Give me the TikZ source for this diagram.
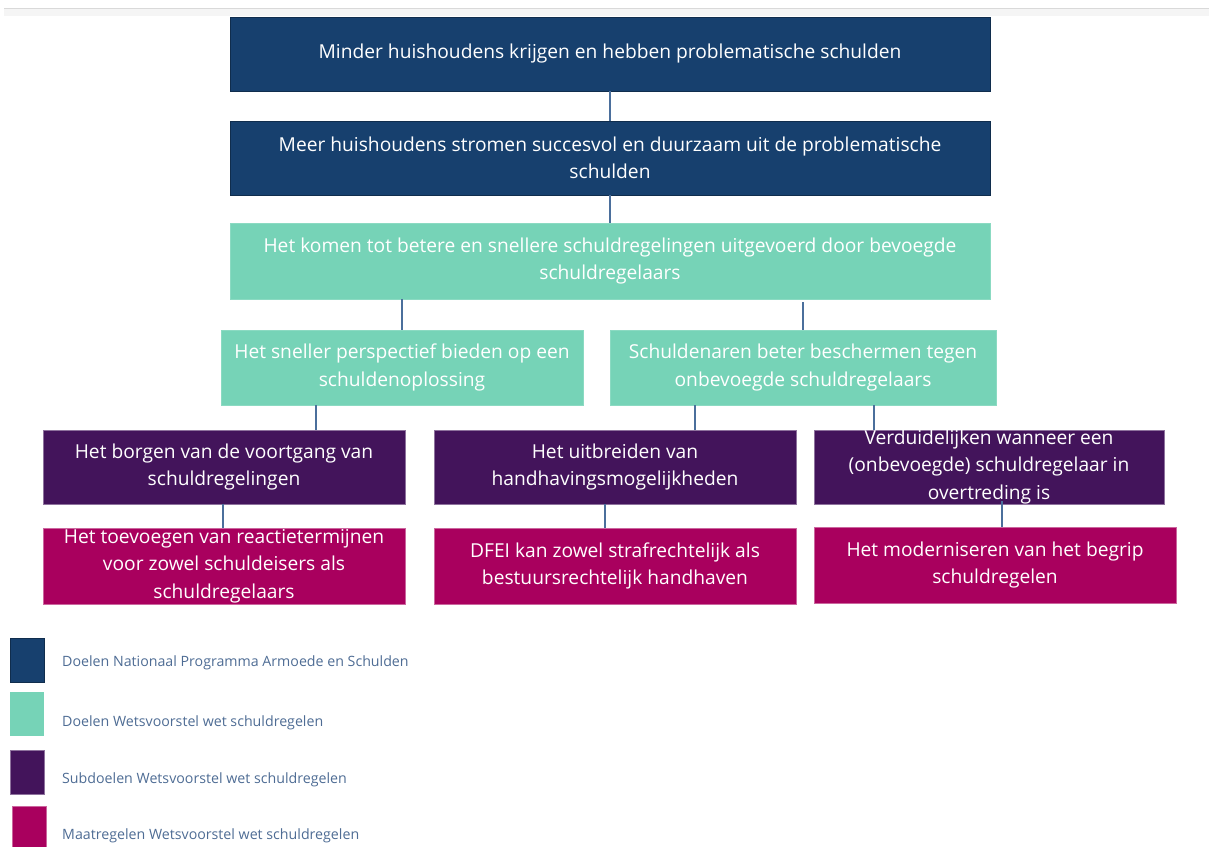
\documentclass[tikz,border=0pt]{standalone}
\usepackage{fontspec}
\setmainfont{Open Sans}
\begin{document}
\definecolor{navy}{HTML}{17406E}
\definecolor{mint}{HTML}{76D3B7}
\definecolor{plum}{HTML}{43145B}
\definecolor{berry}{HTML}{A9005E}
\definecolor{link}{HTML}{4B6F9C}
\definecolor{legendtext}{HTML}{4E6C94}
\begin{tikzpicture}[x=1pt,y=-1pt,
  box/.style={rectangle, inner sep=0pt, outer sep=0pt, align=center,
    text=white, font=\fontsize{19.2}{27.5}\selectfont},
  navybox/.style={box, fill=navy, draw=navy!70!black, line width=0.6pt},
  mintbox/.style={box, fill=mint, draw=mint!85!white, line width=0.6pt},
  plumbox/.style={box, fill=plum, draw=plum!60!white, line width=0.6pt},
  berrybox/.style={box, fill=berry, draw=berry!60!white, line width=0.6pt},
  conn/.style={draw=link, line width=1.1pt},
  swatch/.style={rectangle, inner sep=0pt, minimum width=34pt, minimum height=44pt, anchor=north west},
  legendlabel/.style={anchor=west, inner sep=0pt, text=legendtext, font=\fontsize{14.2}{16}\selectfont}]
\useasboundingbox (0,0) rectangle (1209,846);
% soft header rule
\fill[black!4] (4,8) rectangle (1209,16);
\draw[black!15, line width=0.8pt] (4,8) -- (1209,8);

% level 1: programme goals
\node[navybox, minimum width=760pt, minimum height=74pt] (g1) at (610,54)
  {Minder huishoudens krijgen en hebben problematische schulden};
\node[navybox, minimum width=760pt, minimum height=74pt] (g2) at (610,158)
  {Meer huishoudens stromen succesvol en duurzaam uit de problematische\\schulden};

% level 2: goals of the bill
\node[mintbox, minimum width=760pt, minimum height=76pt] (w1) at (610,261)
  {Het komen tot betere en snellere schuldregelingen uitgevoerd door bevoegde\\schuldregelaars};
\node[mintbox, minimum width=362pt, minimum height=75pt] (w2) at (402,367.5)
  {Het sneller perspectief bieden op een\\schuldenoplossing};
\node[mintbox, minimum width=386pt, minimum height=75pt] (w3) at (803,367.5)
  {Schuldenaren beter beschermen tegen\\onbevoegde schuldregelaars};

% level 3: sub-goals
\node[plumbox, minimum width=362pt, minimum height=74pt] (s1) at (224,467)
  {Het borgen van de voortgang van\\schuldregelingen};
\node[plumbox, minimum width=362pt, minimum height=74pt] (s2) at (615,467)
  {Het uitbreiden van\\handhavingsmogelijkheden};
\node[plumbox, minimum width=350pt, minimum height=74pt] (s3) at (989,467)
  {Verduidelijken wanneer een\\(onbevoegde) schuldregelaar in\\overtreding is};

% level 4: measures
\node[berrybox, minimum width=362pt, minimum height=76pt] (m1) at (224,566)
  {Het toevoegen van reactietermijnen\\voor zowel schuldeisers als\\schuldregelaars};
\node[berrybox, minimum width=362pt, minimum height=76pt] (m2) at (615,566)
  {DFEI kan zowel strafrechtelijk als\\bestuursrechtelijk handhaven};
\node[berrybox, minimum width=362pt, minimum height=76pt] (m3) at (995,565)
  {Het moderniseren van het begrip\\schuldregelen};

% connectors
\draw[conn] (g1.south) -- (g2.north);
\draw[conn] (g2.south) -- (w1.north);
\draw[conn] (w1.south -| w2.north) -- (w2.north);
\draw[conn] ([yshift=-3pt]w1.south -| w3.north) -- (w3.north);
\draw[conn] (w2.south -| 316,0) -- (s1.north -| 316,0);
\draw[conn] (w3.south -| 695,0) -- (s2.north -| 695,0);
\draw[conn] (w3.south -| 874,0) -- (s3.north -| 874,0);
\draw[conn] (s1.south -| 223,0) -- (m1.north -| 223,0);
\draw[conn] (s2.south -| 605,0) -- (m2.north -| 605,0);
\draw[conn] ([yshift=3pt]s3.south -| 1002,0) -- (m3.north -| 1002,0);

% legend
\node[swatch, fill=navy, draw=navy!70!black, line width=0.5pt] (k1) at (10,638) {};
\node[swatch, fill=mint] (k2) at (10,692) {};
\node[swatch, fill=plum, draw=plum!60!white, line width=0.5pt] (k3) at (10,750) {};
\node[swatch, fill=berry, draw=berry!60!white, line width=0.5pt, minimum height=42pt] (k4) at (12,806) {};
\node[legendlabel] (l1) at (62,663) {Doelen Nationaal Programma Armoede en Schulden};
\node[legendlabel] (l2) at (62,723) {Doelen Wetsvoorstel wet schuldregelen};
\node[legendlabel] (l3) at (62,780) {Subdoelen Wetsvoorstel wet schuldregelen};
\node[legendlabel] (l4) at (62,836) {Maatregelen Wetsvoorstel wet schuldregelen};
\end{tikzpicture}
\end{document}
